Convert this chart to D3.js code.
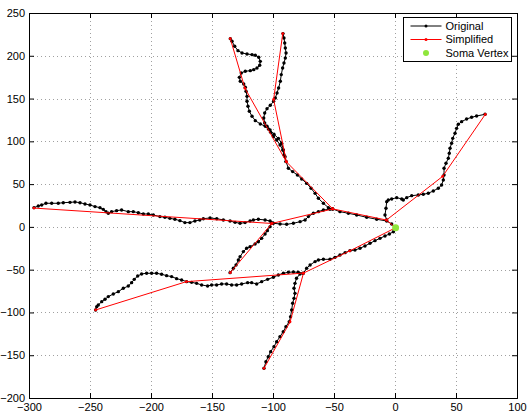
<!DOCTYPE html>
<html>
<head>
<meta charset="utf-8">
<script src="https://cdn.jsdelivr.net/npm/d3@7"></script>
<style>
body { margin: 0; background: #fff; }
</style>
</head>
<body>
<div id="chart"></div>
<script>
var xTicks = [-300, -250, -200, -150, -100, -50, 0, 50, 100];
var yTicks = [-200, -150, -100, -50, 0, 50, 100, 150, 200, 250];
var legendLabels = ['Original', 'Simplified', 'Soma Vertex'];

var somaVertex = [0.5, -1];

// original traced branches
var origMain = [[0.6,-0.9],[-2.7,3.4],[-6.8,6.9],[-15.0,8.9],[-23.2,11.2],[-31.4,13.9],[-38.2,15.9],[-45.1,17.8],
	[-51.1,20.9],[-53.3,20.5],[-58.7,19.8],[-62.8,17.8],[-66.9,15.9],[-71.0,12.0],[-73.7,8.1],[-77.8,6.1],
	[-83.3,4.2],[-88.8,3.0],[-94.2,3.4],[-99.7,4.2],[-101.1,5.0],[-102.4,6.9],[-106.5,8.1],[-112.0,8.9],
	[-116.1,8.1],[-118.8,6.9],[-122.9,5.0],[-127.0,4.2],[-131.1,5.3],[-135.2,6.9],[-140.7,8.1],[-146.1,9.6],
	[-151.6,10.4],[-157.1,9.6],[-160.0,8.1],[-164.0,6.9],[-168.1,5.0],[-172.2,5.0],[-176.3,7.3],[-180.4,8.9],
	[-184.5,10.0],[-188.6,11.2],[-192.7,12.0],[-198.1,13.9],[-202.2,15.1],[-206.3,15.1],[-210.4,16.6],
	[-214.5,17.8],[-218.6,17.8],[-224.1,19.8],[-228.2,19.0],[-232.3,17.8],[-235.0,15.9],[-236.9,17.8],
	[-239.1,20.5],[-241.8,22.5],[-245.9,23.7],[-250.0,25.6],[-254.1,26.8],[-258.2,28.3],[-262.3,29.1],
	[-266.4,28.7],[-271.9,28.3],[-276.0,27.6],[-281.4,27.6],[-286.1,27.6],[-289.6,25.6],[-292.4,24.4],[-295.9,22.5]];

var origRight = [[-6.8,8.1],[-8.2,13.9],[-7.4,21.7],[-6.8,29.5],[-5.5,31.5],[-2.7,32.6],[1.4,34.2],[5.5,32.6],
	[6.8,31.5],[9.6,34.2],[13.7,36.5],[19.1,37.3],[23.2,38.1],[27.3,39.3],[31.4,42.0],[35.5,45.1],[38.2,49.0],
	[39.6,54.8],[40.2,60.7],[40.2,68.5],[41.8,74.3],[43.7,80.2],[44.5,86.0],[45.1,91.9],[46.4,97.7],[47.3,103.5],
	[49.2,109.4],[50.5,115.2],[51.9,119.9],[54.6,123.0],[58.7,126.1],[62.8,128.1],[66.9,129.6],[73.8,131.6]];

var origTopF = [[-51.1,20.9],[-54.6,22.5],[-58.7,27.6],[-62.8,33.4],[-65.5,39.2],[-68.8,45.1],[-72.4,50.9],
	[-76.5,56.0],[-80.0,60.7],[-83.9,64.6],[-87.4,68.5],[-89.3,76.3],[-90.1,82.1],[-91.5,89.9],[-92.9,97.7],
	[-95.6,103.5],[-99.2,108.2],[-102.4,113.3],[-104.9,117.6],[-106.8,121.5],[-107.6,127.3],[-106.8,133.2],
	[-104.9,138.2],[-102.2,142.1],[-99.5,146.8],[-98.1,150.7],[-96.7,156.5],[-95.4,162.4],[-94.0,170.2],
	[-93.2,178.0],[-92.1,185.7],[-91.0,191.6],[-89.9,197.4],[-89.3,203.3],[-89.9,209.1],[-90.4,215.0],
	[-91.0,220.8],[-91.8,225.9]];

var origTopG = [[-89.3,76.3],[-91.0,84.1],[-92.0,89.9],[-94.2,95.7],[-97.0,101.6],[-99.7,105.5],[-101.9,110.5],
	[-103.8,114.4],[-106.3,117.6],[-110.4,120.3],[-114.5,124.2],[-117.2,129.3],[-119.4,135.1],[-120.5,141.0],
	[-121.3,146.8],[-121.3,152.6],[-122.1,158.5],[-122.7,163.2],[-124.0,167.0],[-126.8,170.2],[-127.6,174.8],
	[-126.0,179.9],[-122.7,181.9],[-118.6,182.6],[-115.8,183.8],[-113.1,185.7],[-110.9,188.9],[-110.4,193.5],
	[-111.7,198.2],[-114.5,200.6],[-117.2,201.3],[-121.3,202.1],[-125.4,203.3],[-128.7,206.0],[-131.4,211.1],
	[-133.6,216.9],[-135.0,220.0]];

var origLowJ = [[-101.1,4.2],[-102.4,0.3],[-104.6,-4.4],[-106.5,-8.3],[-109.3,-13.4],[-112.0,-17.3],[-114.7,-20.0],
	[-118.8,-23.1],[-121.6,-25.0],[-124.3,-28.9],[-127.0,-34.8],[-128.4,-38.7],[-130.3,-44.5],[-132.5,-48.4],[-135.2,-53.5]];

var origSouth = [[0.6,-0.9],[-1.3,-5.6],[-4.6,-8.3],[-8.2,-10.6],[-12.3,-13.4],[-16.4,-16.1],[-20.5,-19.2],
	[-24.6,-22.3],[-28.7,-25.0],[-32.8,-27.0],[-36.9,-27.8],[-40.9,-30.1],[-45.1,-32.8],[-49.2,-35.6],
	[-53.3,-37.9],[-58.7,-37.9],[-62.8,-38.7],[-65.5,-40.6],[-69.6,-44.5],[-72.4,-48.4],[-75.2,-54.3],
	[-77.9,-55.1],[-80.7,-60.1],[-82.0,-66.0],[-82.8,-71.8],[-82.0,-77.7],[-82.8,-83.5],[-83.9,-89.3],
	[-84.7,-97.1],[-85.6,-104.9],[-86.7,-110.8],[-89.4,-116.6],[-91.6,-122.5],[-94.3,-128.3],[-97.0,-134.2],
	[-99.2,-140.0],[-101.9,-145.8],[-103.9,-151.7],[-105.8,-157.5],[-107.4,-165.3]];

var origSouthWest = [[-75.4,-54.2],[-79.3,-53.1],[-83.3,-52.7],[-87.4,-53.1],[-91.5,-54.2],[-95.6,-56.2],
	[-99.7,-58.9],[-104.4,-61.3],[-109.3,-64.0],[-113.4,-66.7],[-117.5,-65.2],[-120.8,-65.2],[-125.7,-66.7],
	[-129.8,-67.9],[-133.9,-67.9],[-138.0,-66.7],[-142.1,-66.7],[-146.2,-67.9],[-150.3,-67.9],[-153.6,-69.1],
	[-158.5,-67.9],[-162.6,-66.0],[-166.7,-64.8],[-170.8,-64.0],[-174.9,-62.0],[-179.0,-60.5],[-183.1,-58.1],
	[-187.2,-57.0],[-191.3,-55.4],[-195.4,-54.2],[-199.5,-54.2],[-203.6,-54.2],[-207.7,-55.0],[-210.9,-57.4],
	[-213.7,-61.3],[-215.9,-65.2],[-218.6,-69.1],[-222.7,-71.8],[-226.8,-75.7],[-230.9,-78.4],[-235.0,-81.5],
	[-237.7,-84.6],[-240.4,-87.4],[-243.2,-91.3],[-244.5,-93.2],[-245.4,-97.1]];

// simplified branches
var simpMain = [[0.5,-1],[-7,8],[-51,21],[-101,4],[-296,22]];
var simpRight = [[-7,8],[39,59],[74,131.5]];
var simpTopF = [[-51,21],[-89,76],[-99.5,149],[-92,226]];
var simpTopG = [[-89,76],[-123,162],[-135,220]];
var simpLowJ = [[-101,4],[-135,-53.5]];
var simpSouth = [[0.5,-1],[-37,-28],[-75,-54],[-86,-111],[-107.4,-165.3]];
var simpSouthWest = [[-75,-54],[-171,-64],[-245.4,-97.1]];

var origBranches = [origMain, origRight, origTopF, origTopG, origLowJ, origSouth, origSouthWest];
var simpBranches = [simpMain, simpRight, simpTopF, simpTopG, simpLowJ, simpSouth, simpSouthWest];

var W = 530, H = 412;
var box = {left: 29, right: 517, top: 13, bottom: 398};
var fontFamily = '"Liberation Sans", Arial, Helvetica, sans-serif';

var x = d3.scaleLinear().domain([-300, 100]).range([box.left, box.right]);
var y = d3.scaleLinear().domain([-200, 250]).range([box.bottom, box.top]);

var svg = d3.select('#chart')
	.append('svg')
	.attr('width', W)
	.attr('height', H)
	.style('font-family', fontFamily)
	.style('font-size', '11px');

// grid
var grid = svg.append('g').attr('class', 'grid')
	.attr('stroke', '#a0a0a0')
	.attr('stroke-width', 1)
	.attr('stroke-dasharray', '1,3');
grid.selectAll('.gx').data(xTicks.slice(1, -1)).enter().append('line')
	.attr('x1', function(d) { return Math.round(x(d)) + 0.5; })
	.attr('x2', function(d) { return Math.round(x(d)) + 0.5; })
	.attr('y1', box.top).attr('y2', box.bottom);
grid.selectAll('.gy').data(yTicks.slice(1, -1)).enter().append('line')
	.attr('y1', function(d) { return Math.round(y(d)) + 0.5; })
	.attr('y2', function(d) { return Math.round(y(d)) + 0.5; })
	.attr('x1', box.left).attr('x2', box.right);

// axes (ticks inside, mirrored on top/right)
svg.append('g')
	.attr('transform', 'translate(0,' + box.bottom + ')')
	.call(d3.axisBottom(x).tickValues(xTicks).tickSize(-5).tickPadding(5));
svg.append('g')
	.attr('transform', 'translate(' + box.left + ',0)')
	.call(d3.axisLeft(y).tickValues(yTicks).tickSize(-5).tickPadding(4));
svg.append('g')
	.attr('transform', 'translate(0,' + box.top + ')')
	.call(d3.axisTop(x).tickValues(xTicks).tickSize(-5).tickFormat(''));
svg.append('g')
	.attr('transform', 'translate(' + box.right + ',0)')
	.call(d3.axisRight(y).tickValues(yTicks).tickSize(-5).tickFormat(''));

svg.selectAll('.domain').attr('stroke', '#000');
svg.selectAll('.tick line').attr('stroke', '#000');
svg.selectAll('.tick text')
	.attr('fill', '#000')
	.style('font-family', fontFamily)
	.style('font-size', '11px');

var line = d3.line()
	.x(function(d) { return x(d[0]); })
	.y(function(d) { return y(d[1]); });

// original traces
var orig = svg.append('g').attr('class', 'original');
orig.selectAll('path').data(origBranches).enter().append('path')
	.attr('d', line)
	.attr('fill', 'none')
	.attr('stroke', '#000')
	.attr('stroke-width', 1);
origBranches.forEach(function(br) {
	orig.append('g').selectAll('circle').data(br).enter().append('circle')
		.attr('cx', function(d) { return x(d[0]); })
		.attr('cy', function(d) { return y(d[1]); })
		.attr('r', 1.7)
		.attr('fill', '#000');
});

// simplified traces
var simp = svg.append('g').attr('class', 'simplified');
simp.selectAll('path').data(simpBranches).enter().append('path')
	.attr('d', line)
	.attr('fill', 'none')
	.attr('stroke', '#ff0000')
	.attr('stroke-width', 1);
simpBranches.forEach(function(br) {
	simp.append('g').selectAll('circle').data(br).enter().append('circle')
		.attr('cx', function(d) { return x(d[0]); })
		.attr('cy', function(d) { return y(d[1]); })
		.attr('r', 1.4)
		.attr('fill', '#ff0000');
});

// soma vertex
svg.append('circle')
	.attr('cx', x(somaVertex[0]))
	.attr('cy', y(somaVertex[1]))
	.attr('r', 3.5)
	.attr('fill', '#8fe63c');

// legend
var lg = svg.append('g').attr('transform', 'translate(403.5,17.5)');
lg.append('rect')
	.attr('width', 108).attr('height', 44)
	.attr('fill', '#fff').attr('stroke', '#000').attr('stroke-width', 1);
var rowY = [8.5, 22, 35.5];
var lgColors = ['#000', '#ff0000', '#8fe63c'];
legendLabels.forEach(function(lbl, i) {
	if (i < 2) {
		lg.append('line')
			.attr('x1', 7).attr('x2', 38)
			.attr('y1', rowY[i]).attr('y2', rowY[i])
			.attr('stroke', lgColors[i]).attr('stroke-width', 1);
		lg.append('circle').attr('cx', 22.5).attr('cy', rowY[i]).attr('r', 1.5).attr('fill', lgColors[i]);
	} else {
		lg.append('circle').attr('cx', 22.5).attr('cy', rowY[i]).attr('r', 3).attr('fill', lgColors[i]);
	}
	lg.append('text')
		.attr('x', 42).attr('y', rowY[i])
		.attr('dy', '0.35em')
		.attr('fill', '#000')
		.text(lbl);
});
</script>
</body>
</html>
